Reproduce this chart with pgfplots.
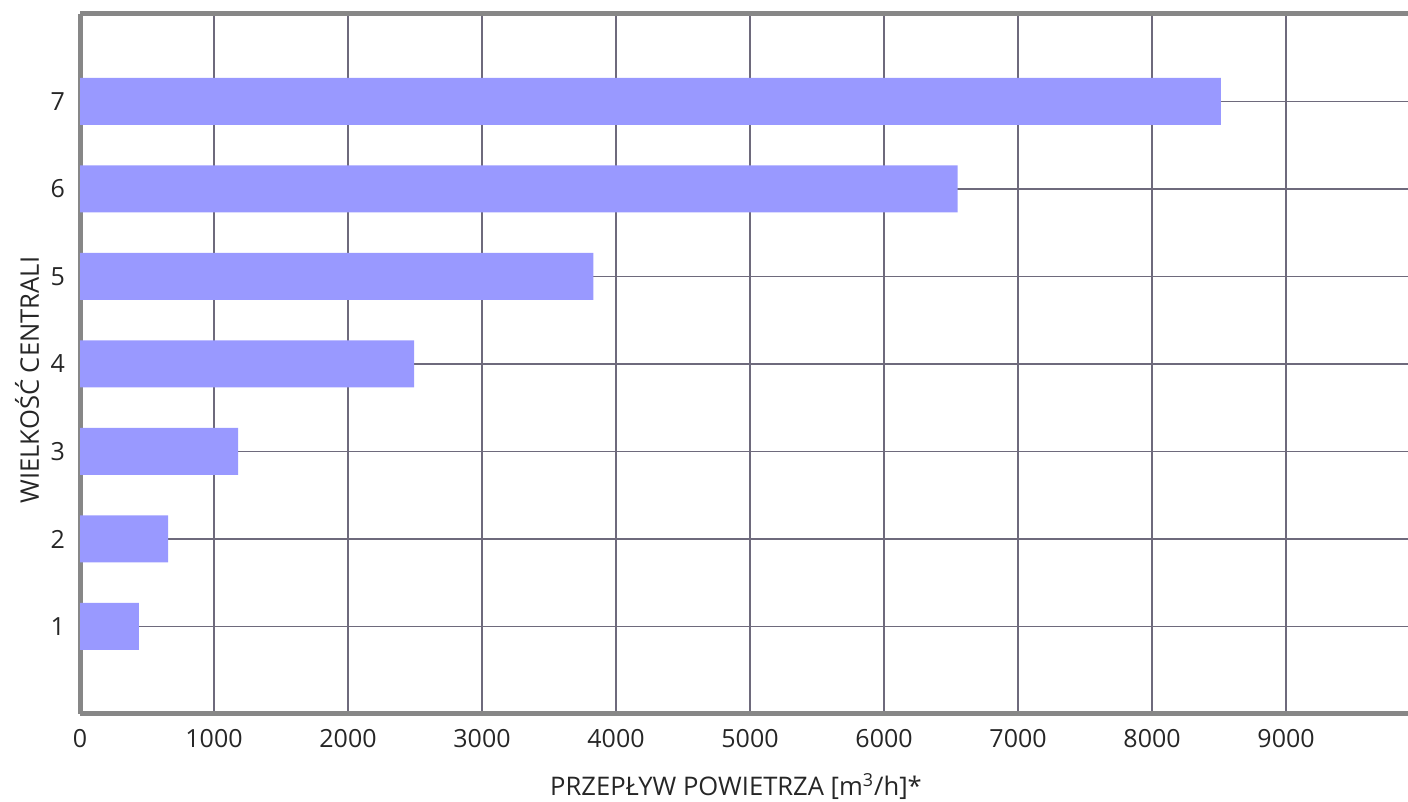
\documentclass[border=0pt]{standalone}
\usepackage{pgfplots}
\pgfplotsset{compat=1.18}
\usepackage{fontspec}
\setmainfont{Open Sans}
\definecolor{barc}{HTML}{9999FF}
\definecolor{gridc}{HTML}{6E6A7C}
\definecolor{framec}{HTML}{878787}
\begin{document}
\begin{tikzpicture}
\begin{axis}[
  at={(0,0)}, anchor=origin,
  scale only axis,
  width=664pt, height=350pt,
  xmin=0, xmax=9910,
  ymin=0, ymax=8,
  xbar, bar width=23.5pt,
  set layers=standard,
  axis x line=box, axis y line=left,
  axis line style={draw=framec, line width=2.5pt, -, on layer=axis foreground},
  xtick={0,1000,...,9000},
  ytick={1,2,3,4,5,6,7},
  major tick length=0pt,
  grid=major,
  major grid style={draw=gridc, line width=0.9pt},
  /pgf/number format/assume math mode=true,
  /pgf/number format/1000 sep={},
  tick label style={font=\fontsize{12.5}{14}\selectfont, text=black!85},
  xticklabel style={yshift=-4pt},
  yticklabel style={xshift=-4pt},
  xlabel={PRZEPŁYW POWIETRZA [m\textsuperscript{3}/h]*},
  ylabel={WIELKOŚĆ CENTRALI},
  label style={font=\fontsize{12.8}{14}\selectfont, text=black!85},
  xlabel style={at={(rel axis cs:0.494,-0.1165)}, anchor=base},
  ylabel style={at={(rel axis cs:-0.0399,0.477)}, anchor=center},
  clip=false,
]
\addplot[fill=barc, draw=none] coordinates {
  (440,1) (657,2) (1180,3) (2494,4) (3831,5) (6550,6) (8514,7)
};
\end{axis}
\pgfresetboundingbox
\path[use as bounding box] (-40pt,-44pt) rectangle (664pt,357pt);
\end{tikzpicture}
\end{document}
